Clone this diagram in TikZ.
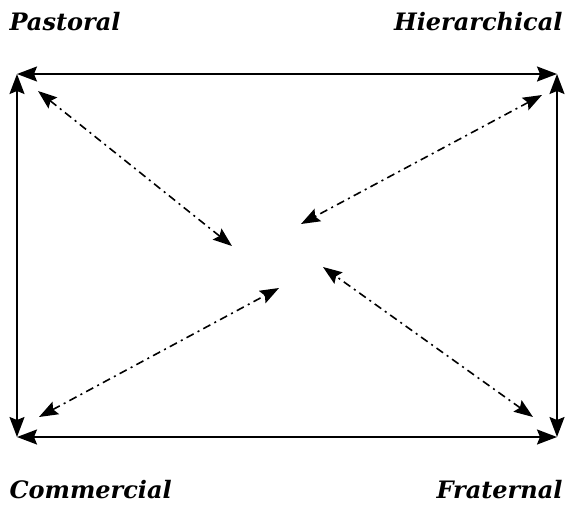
\documentclass[tikz,border=0pt]{standalone}
\usepackage{fontspec}
\setmainfont{DejaVu Serif}
\usetikzlibrary{arrows.meta}

\begin{document}
\begin{tikzpicture}[x=1pt,y=1pt,
    bigtip/.tip={Stealth[length=20pt,width=15pt,inset=3pt]},
    smalltip/.tip={Stealth[length=19pt,width=14pt,inset=3pt]},
    side/.style={line width=1.8pt,bigtip-bigtip},
    link/.style={line width=1.6pt,dash pattern=on 8pt off 4.5pt on 2pt off 4.5pt,smalltip-smalltip},
    model/.style={font=\fontsize{24}{29}\selectfont\bfseries\itshape}]
    \useasboundingbox (0,0) rectangle (571,-504);
    % corners of the frame
    \coordinate (tl) at (17,-74); \coordinate (tr) at (557,-74);
    \coordinate (bl) at (17,-437); \coordinate (br) at (557,-437);
    \draw[side] (tl) -- (tr); \draw[side] (bl) -- (br);
    \draw[side] (tl) -- (bl); \draw[side] (tr) -- (br);
    % the four models
    \node[model,anchor=west] (pas) at (6,-22) {Pastoral};
    \node[model,anchor=east] (hie) at (566,-22) {Hierarchical};
    \node[model,anchor=west] (com) at (6,-490) {Commercial};
    \node[model,anchor=east] (fra) at (566,-490) {Fraternal};
    % links towards the centre
    \coordinate (pa) at (38,-91); \coordinate (pb) at (232,-246);
    \coordinate (ha) at (542,-95); \coordinate (hb) at (301,-224);
    \coordinate (ca) at (39,-417); \coordinate (cb) at (279,-288);
    \coordinate (fa) at (533,-417); \coordinate (fb) at (323,-267);
    \draw[link] (pa) -- (pb); \draw[link] (ha) -- (hb);
    \draw[link] (ca) -- (cb); \draw[link] (fa) -- (fb);
\end{tikzpicture}
\end{document}
